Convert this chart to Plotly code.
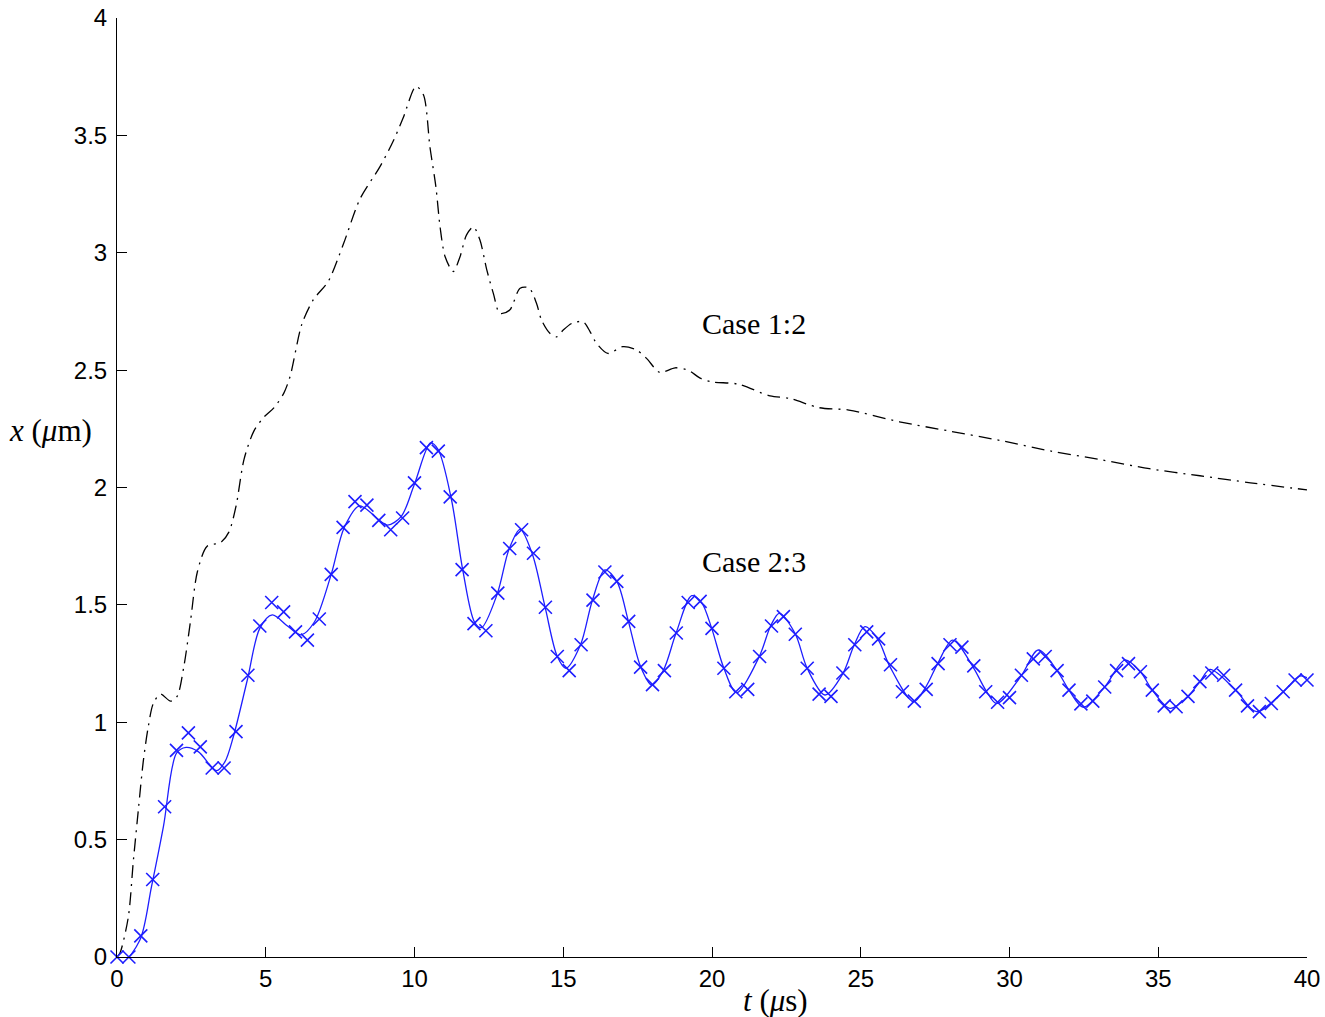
import plotly.graph_objects as go

# ---- Case 2:3 sampled points (x markers) ----
marker_t = [0.0, 0.4, 0.8, 1.2, 1.6, 2.0, 2.4, 2.8, 3.2, 3.6,
            4.0, 4.4, 4.8, 5.2, 5.6, 6.0, 6.4, 6.8, 7.2, 7.6,
            8.0, 8.4, 8.8, 9.2, 9.6, 10.0, 10.4, 10.8, 11.2, 11.6,
            12.0, 12.4, 12.8, 13.2, 13.6, 14.0, 14.4, 14.8, 15.2, 15.6,
            16.0, 16.4, 16.8, 17.2, 17.6, 18.0, 18.4, 18.8, 19.2, 19.6,
            20.0, 20.4, 20.8, 21.2, 21.6, 22.0, 22.4, 22.8, 23.2, 23.6,
            24.0, 24.4, 24.8, 25.2, 25.6, 26.0, 26.4, 26.8, 27.2, 27.6,
            28.0, 28.4, 28.8, 29.2, 29.6, 30.0, 30.4, 30.8, 31.2, 31.6,
            32.0, 32.4, 32.8, 33.2, 33.6, 34.0, 34.4, 34.8, 35.2, 35.6,
            36.0, 36.4, 36.8, 37.2, 37.6, 38.0, 38.4, 38.8, 39.2, 39.6,
            40.0]
marker_x = [0.00, 0.00, 0.09, 0.33, 0.64, 0.88, 0.955, 0.895, 0.805, 0.805,
            0.96, 1.20, 1.41, 1.51, 1.47, 1.385, 1.35, 1.44, 1.63, 1.83,
            1.94, 1.925, 1.86, 1.82, 1.87, 2.02, 2.17, 2.155, 1.96, 1.65,
            1.42, 1.39, 1.55, 1.74, 1.82, 1.72, 1.49, 1.28, 1.22, 1.33,
            1.52, 1.64, 1.60, 1.43, 1.235, 1.16, 1.22, 1.38, 1.51, 1.515,
            1.40, 1.23, 1.13, 1.14, 1.28, 1.41, 1.45, 1.375, 1.23, 1.12,
            1.11, 1.21, 1.33, 1.385, 1.355, 1.245, 1.13, 1.09, 1.14, 1.25,
            1.33, 1.32, 1.24, 1.13, 1.085, 1.105, 1.20, 1.27, 1.28, 1.22,
            1.137, 1.078, 1.09, 1.15, 1.22, 1.25, 1.215, 1.137, 1.07, 1.066,
            1.11, 1.173, 1.21, 1.20, 1.137, 1.07, 1.045, 1.08, 1.13, 1.18,
            1.18]

# ---- Case 2:3 smooth curve ----
case23_t = [0, 0.21, 0.77, 1.16, 1.56, 2.0, 2.32, 2.73, 3.35, 3.63,
            3.91, 4.38, 4.8, 5.22, 5.73, 6.18, 6.63, 7.2, 7.64, 8.15,
            8.82, 9.1, 9.55, 10.0, 10.54, 10.79, 11.24, 11.63, 12.02, 12.25,
            12.78, 13.18, 13.55, 13.96, 14.39, 14.8, 15.09, 15.58, 15.98, 16.4,
            16.8, 17.19, 17.6, 17.97, 18.36, 18.79, 19.32, 19.65, 19.99, 20.4,
            20.83, 21.59, 21.97, 22.26, 22.79, 23.2, 23.8, 24.39, 24.78, 25.14,
            25.59, 25.98, 26.77, 27.18, 27.59, 28.09, 28.78, 29.2, 29.57, 30.39,
            30.97, 31.6, 32.0, 32.48, 33.2, 33.88, 34.4, 34.8, 35.4, 36.0,
            36.4, 36.74, 37.6, 38.3, 39.2, 39.76, 40.0]
case23_x = [0, -0.02, 0.072, 0.30, 0.555, 0.868, 0.893, 0.875, 0.794, 0.832,
            0.938, 1.18, 1.40, 1.457, 1.41, 1.372, 1.426, 1.63, 1.83, 1.922,
            1.86, 1.84, 1.876, 2.015, 2.19, 2.163, 1.95, 1.643, 1.426, 1.403,
            1.546, 1.738, 1.822, 1.717, 1.49, 1.28, 1.23, 1.33, 1.52, 1.649,
            1.60, 1.43, 1.237, 1.159, 1.22, 1.379, 1.539, 1.51, 1.40, 1.23,
            1.126, 1.28, 1.41, 1.464, 1.379, 1.23, 1.116, 1.205, 1.329, 1.407,
            1.35, 1.237, 1.088, 1.149, 1.251, 1.35, 1.234, 1.137, 1.08, 1.197,
            1.308, 1.22, 1.137, 1.064, 1.15, 1.265, 1.215, 1.137, 1.059, 1.11,
            1.173, 1.225, 1.137, 1.045, 1.13, 1.197, 1.19]

# ---- Case 1:2 curve (dash-dot) ----
case12_t = [0, 0.1, 0.38, 0.55, 0.72, 0.88, 1.05, 1.22, 1.46, 1.8,
            2.02, 2.25, 2.47, 2.7, 3.03, 3.48, 3.76, 4.0, 4.27, 4.6,
            4.94, 5.28, 5.6, 5.82, 6.21, 6.6, 7.1, 7.61, 8.17, 8.84,
            9.29, 9.62, 10.05, 10.3, 10.52, 10.72, 10.86, 11.03, 11.3, 11.53,
            11.75, 11.98, 12.2, 12.43, 12.65, 12.87, 13.2, 13.55, 13.85, 14.1,
            14.27, 14.55, 14.78, 15.0, 15.3, 15.67, 15.9, 16.12, 16.5, 17.0,
            17.46, 17.8, 18.25, 18.76, 19.2, 19.6, 20.0, 20.9, 21.95, 22.6,
            23.6, 24.6, 26.3, 28.0, 29.7, 31.4, 33.0, 34.7, 36.4, 38.1,
            40.0]
case12_x = [0, 0.017, 0.17, 0.41, 0.63, 0.83, 0.98, 1.08, 1.12, 1.09,
            1.11, 1.24, 1.43, 1.64, 1.75, 1.765, 1.81, 1.92, 2.12, 2.24,
            2.30, 2.34, 2.40, 2.474, 2.694, 2.80, 2.878, 3.037, 3.23, 3.367,
            3.477, 3.575, 3.709, 3.673, 3.45, 3.28, 3.11, 2.983, 2.92, 2.983,
            3.076, 3.11, 3.054, 2.927, 2.827, 2.742, 2.756, 2.849, 2.85, 2.785,
            2.713, 2.657, 2.642, 2.671, 2.70, 2.706, 2.664, 2.614, 2.571, 2.60,
            2.586, 2.55, 2.49, 2.51, 2.50, 2.466, 2.45, 2.44, 2.39, 2.38,
            2.34, 2.33, 2.28, 2.24, 2.20, 2.155, 2.12, 2.08, 2.05, 2.02,
            1.99]

x_ticks = [0, 5, 10, 15, 20, 25, 30, 35, 40]
x_ticktext = ["0", "5", "10", "15", "20", "25", "30", "35", "40"]
y_ticks = [0, 0.5, 1, 1.5, 2, 2.5, 3, 3.5, 4]
y_ticktext = ["0", "0.5", "1", "1.5", "2", "2.5", "3", "3.5", "4"]

BLUE = "rgb(30,30,255)"
SERIF = "Liberation Serif"
SANS = "Liberation Sans"

fig = go.Figure()
fig.add_trace(go.Scatter(
    x=case12_t, y=case12_x, mode="lines",
    line=dict(color="black", width=1.3, dash="13px,6px,2px,6px", shape="spline", smoothing=0.8),
    showlegend=False, hoverinfo="skip"))
fig.add_trace(go.Scatter(
    x=case23_t, y=case23_x, mode="lines",
    line=dict(color=BLUE, width=1.3, shape="spline", smoothing=0.9),
    showlegend=False, hoverinfo="skip"))
fig.add_trace(go.Scatter(
    x=marker_t, y=marker_x, mode="markers",
    marker=dict(symbol="x-thin", size=13, line=dict(color=BLUE, width=1.6), color=BLUE),
    cliponaxis=False, showlegend=False, hoverinfo="skip"))

fig.add_annotation(x=19.6, y=2.70, xref="x", yref="y", text="Case 1:2", showarrow=False,
                   xanchor="left", yanchor="middle", font=dict(family=SERIF, size=30, color="black"))
fig.add_annotation(x=19.6, y=1.683, xref="x", yref="y", text="Case 2:3", showarrow=False,
                   xanchor="left", yanchor="middle", font=dict(family=SERIF, size=30, color="black"))
fig.add_annotation(x=-0.0925, y=0.561, xref="paper", yref="paper", text="<i>x</i> (<i>μ</i>m)",
                   showarrow=False, xanchor="left", yanchor="middle",
                   font=dict(family=SERIF, size=31, color="black"))
fig.add_annotation(x=0.553, y=-0.046, xref="paper", yref="paper", text="<i>t</i> (<i>μ</i>s)",
                   showarrow=False, xanchor="center", yanchor="middle",
                   font=dict(family=SERIF, size=31, color="black"))

fig.update_xaxes(range=[0, 40], tickvals=x_ticks, ticktext=x_ticktext, ticks="inside", ticklen=10,
                 tickcolor="black", tickwidth=1, showline=True, linecolor="black", linewidth=1,
                 showgrid=False, zeroline=False, automargin=False,
                 tickfont=dict(family=SANS, size=24, color="black"))
fig.update_yaxes(range=[0, 4], tickvals=y_ticks, ticktext=y_ticktext, ticks="inside", ticklen=10,
                 tickcolor="black", tickwidth=1, showline=True, linecolor="black", linewidth=1,
                 showgrid=False, zeroline=False, automargin=False, ticklabelstandoff=4,
                 tickfont=dict(family=SANS, size=24, color="black"))
fig.update_layout(width=1325, height=1017, margin=dict(l=117, r=18, t=18, b=60, autoexpand=False),
                  plot_bgcolor="white", paper_bgcolor="white")

fig.write_html("out.html", config={"displayModeBar": False},
               post_script="document.body.style.margin='0px';document.body.style.overflow='hidden';")
